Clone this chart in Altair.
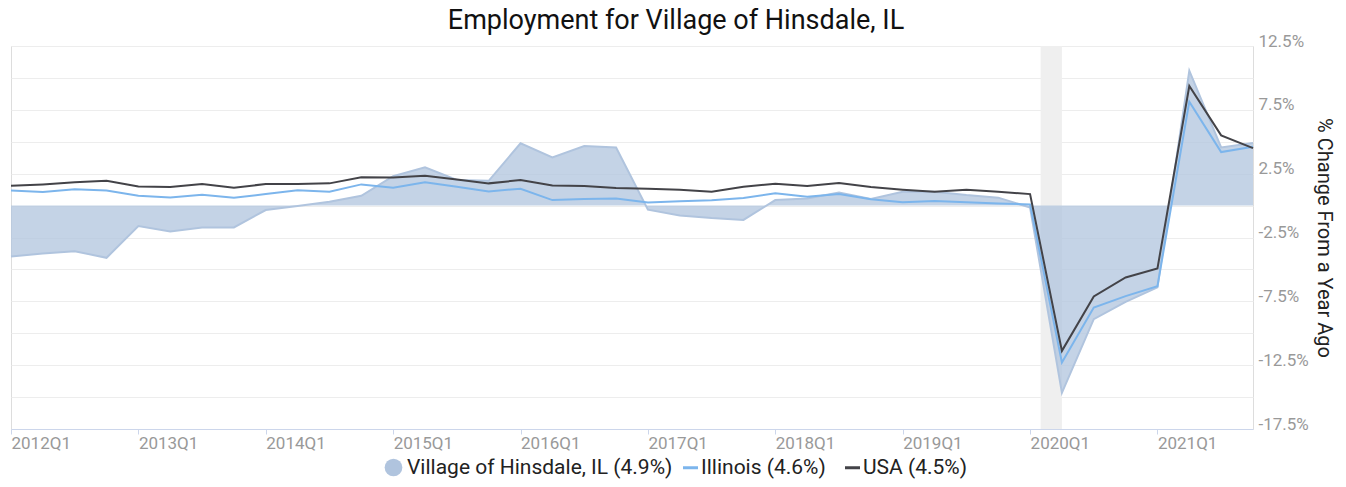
import altair as alt
import pandas as pd

quarters = [
    "2012Q1", "2012Q2", "2012Q3", "2012Q4", "2013Q1", "2013Q2", "2013Q3", "2013Q4",
    "2014Q1", "2014Q2", "2014Q3", "2014Q4", "2015Q1", "2015Q2", "2015Q3", "2015Q4",
    "2016Q1", "2016Q2", "2016Q3", "2016Q4", "2017Q1", "2017Q2", "2017Q3", "2017Q4",
    "2018Q1", "2018Q2", "2018Q3", "2018Q4", "2019Q1", "2019Q2", "2019Q3", "2019Q4",
    "2020Q1", "2020Q2", "2020Q3", "2020Q4", "2021Q1", "2021Q2", "2021Q3", "2021Q4",
]
hinsdale = [
    -3.98, -3.75, -3.57, -4.09, -1.61, -2.02, -1.71, -1.71,
    -0.35, -0.04, 0.30, 0.77, 2.30, 3.00, 2.00, 1.94,
    4.88, 3.78, 4.66, 4.55, -0.32, -0.77, -0.98, -1.12,
    0.43, 0.56, 1.03, 0.51, 1.08, 1.08, 0.82, 0.62,
    -0.15, -14.67, -8.90, -7.54, -6.41, 10.57, 4.56, 4.90,
]
illinois = [
    1.19, 1.06, 1.27, 1.19, 0.77, 0.64, 0.85, 0.61,
    0.90, 1.21, 1.08, 1.66, 1.40, 1.82, 1.47, 1.11,
    1.32, 0.43, 0.51, 0.56, 0.25, 0.33, 0.41, 0.59,
    0.96, 0.69, 0.90, 0.49, 0.27, 0.35, 0.27, 0.17,
    0.09, -12.29, -7.98, -7.09, -6.31, 8.14, 4.19, 4.60,
]
usa = [
    1.55, 1.66, 1.82, 1.94, 1.50, 1.45, 1.69, 1.40,
    1.69, 1.69, 1.74, 2.21, 2.20, 2.34, 2.05, 1.74,
    2.00, 1.58, 1.53, 1.37, 1.32, 1.24, 1.08, 1.47,
    1.71, 1.53, 1.76, 1.45, 1.24, 1.08, 1.24, 1.08,
    0.90, -11.38, -7.12, -5.63, -4.92, 9.37, 5.50, 4.50,
]
names = ["Village of Hinsdale, IL (4.9%)", "Illinois (4.6%)", "USA (4.5%)"]
colors = ["#b0c4de", "#7cb5ec", "#434348"]
recession_start = [2020.083]
recession_end = [2020.25]
year_ticks = [2012, 2013, 2014, 2015, 2016, 2017, 2018, 2019, 2020, 2021]
y_grid = [-17.5, -15, -12.5, -10, -7.5, -5, -2.5, 0, 2.5, 5, 7.5, 10, 12.5]


def qnum(q):
    return int(q[:4]) + (int(q[5]) - 1) / 4.0


rows = []
for name, vals in zip(names, [hinsdale, illinois, usa]):
    for q, v in zip(quarters, vals):
        rows.append({"quarter": q, "t": qnum(q), "series": name, "value": v})
df = pd.DataFrame(rows)
rec = pd.DataFrame({"start": recession_start, "end": recession_end})

FONT = "Roboto"
x_scale = alt.Scale(domain=[2012, 2021.75], nice=False, zero=False)

x_enc = alt.X(
    "t:Q",
    scale=x_scale,
    axis=alt.Axis(
        values=year_ticks, labelExpr="datum.value + 'Q1'", title=None, grid=False,
        labelAlign="left", labelFlush=False, labelOverlap=False,
        labelFont=FONT, labelFontSize=17, labelColor="#999999", labelPadding=1,
        domainColor="#ccd6eb", tickColor="#ccd6eb", tickSize=5,
    ),
)
y_enc = alt.Y(
    "value:Q",
    scale=alt.Scale(domain=[-17.5, 12.5], nice=False, zero=False),
    axis=alt.Axis(
        orient="right", values=y_grid,
        labelExpr="(datum.value + 17.5) % 5 == 0 ? datum.value + '%' : ''",
        labelFont=FONT, labelFontSize=17, labelColor="#999999",
        labelBaseline="alphabetic", labelPadding=5, labelOverlap=False,
        grid=True, gridColor="#ededed", domain=False, ticks=False,
        title="% Change From a Year Ago", titleFont=FONT, titleFontSize=20,
        titleFontWeight="normal", titleColor="#222222", titlePadding=5,
    ),
)

band = alt.Chart(rec).mark_rect(color="#efefef").encode(
    x=alt.X("start:Q", scale=x_scale),
    x2="end:Q",
)

hd = df[df.series == names[0]]
area = alt.Chart(hd).mark_area(fillOpacity=0.75).encode(
    x=x_enc, y=y_enc,
    fill=alt.Fill(
        "series:N",
        scale=alt.Scale(domain=[names[0]], range=[colors[0]]),
        legend=alt.Legend(
            orient="none", legendX=372, legendY=411, direction="horizontal",
            title=None, symbolType="circle", symbolSize=314, symbolOpacity=1,
            symbolStrokeWidth=0, labelFont=FONT, labelFontSize=21,
            labelColor="#222222", labelLimit=600, labelOffset=3, padding=0,
        ),
    ),
)
area_line = alt.Chart(hd).mark_line(color=colors[0], strokeWidth=2).encode(x=x_enc, y=y_enc)

stroke_scale = alt.Scale(domain=names[1:], range=colors[1:])
stroke_legend = alt.Legend(
    orient="none", legendX=669, legendY=411, direction="horizontal",
    title=None, symbolType="stroke", symbolSize=225, symbolStrokeWidth=3,
    labelFont=FONT, labelFontSize=21, labelColor="#222222", labelLimit=600,
    labelOffset=0, columnPadding=13, padding=0,
)
il_line = alt.Chart(df[df.series == names[1]]).mark_line(strokeWidth=2).encode(
    x=x_enc, y=y_enc,
    stroke=alt.Stroke("series:N", scale=stroke_scale, legend=stroke_legend),
)
us_line = alt.Chart(df[df.series == names[2]]).mark_line(strokeWidth=2).encode(
    x=x_enc, y=y_enc,
    stroke=alt.Stroke("series:N", scale=stroke_scale, legend=stroke_legend),
)

chart = alt.layer(band, area, area_line, il_line, us_line).properties(
    width=1242,
    height=383,
    title=alt.TitleParams(
        "Employment for Village of Hinsdale, IL", font=FONT, fontSize=27,
        fontWeight="normal", color="#111111", anchor="middle", frame="group",
        dx=44, offset=-30, baseline="bottom",
    ),
    autosize=alt.AutoSizeParams(type="none"),
    padding={"left": 3, "top": 38, "right": 85, "bottom": 50},
).configure_view(stroke=None).configure(background="white")

chart.save("out.html", embed_options={"renderer": "svg", "actions": False})
